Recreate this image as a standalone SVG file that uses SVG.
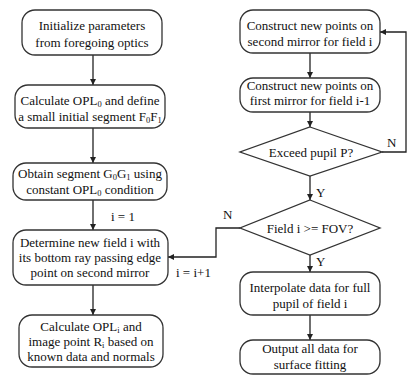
<svg xmlns="http://www.w3.org/2000/svg" width="408" height="379" viewBox="0 0 408 379">
<defs>
<marker id="ah" viewBox="0 0 10 10" refX="10" refY="5" markerWidth="6" markerHeight="6" orient="auto" markerUnits="userSpaceOnUse">
<path d="M0,0 L10,5 L0,10 z" fill="#222"/>
</marker>
<style>
.box{fill:#fff;stroke:#333;stroke-width:1.3}
.t{font-family:"Liberation Serif","Times New Roman",serif;font-size:13px;fill:#111;text-anchor:middle}
.lb{font-family:"Liberation Serif","Times New Roman",serif;font-size:13px;fill:#111}
.sub{font-size:8.5px}
.c{fill:none;stroke:#222;stroke-width:1.3;marker-end:url(#ah)}
</style>
</defs>
<rect width="408" height="379" fill="#fff"/>
<g id="connectors">
<line class="c" x1="93" y1="55" x2="93" y2="85"/>
<line class="c" x1="93" y1="128" x2="93" y2="163"/>
<line class="c" x1="93" y1="200" x2="93" y2="230"/>
<line class="c" x1="93" y1="285" x2="93" y2="315"/>
<line class="c" x1="310" y1="53" x2="310" y2="78"/>
<line class="c" x1="310" y1="112" x2="310" y2="127"/>
<line class="c" x1="310" y1="176" x2="310" y2="200"/>
<line class="c" x1="310" y1="255" x2="310" y2="272"/>
<line class="c" x1="310" y1="315" x2="310" y2="340"/>
<polyline class="c" points="382,152 406,152 406,32 380,32"/>
<polyline class="c" points="240,228 216,228 216,257 168,257"/>
<text class="lb" x="111" y="221">i = 1</text>
<text class="lb" x="387" y="147">N</text>
<text class="lb" x="223" y="219">N</text>
<text class="lb" x="176" y="277">i = i+1</text>
<text class="lb" x="316" y="197">Y</text>
<text class="lb" x="316" y="266">Y</text>
</g>
<g id="n1">
<rect class="box" x="22" y="10" width="140" height="45" rx="13"/>
<text class="t" x="92" y="30">Initialize parameters</text>
<text class="t" x="92" y="47">from foregoing optics</text>
</g>
<g id="n2">
<rect class="box" x="15" y="85" width="150" height="43" rx="13"/>
<text class="t" x="90" y="105">Calculate OPL<tspan class="sub" dy="2">0</tspan><tspan dy="-2"> and define</tspan></text>
<text class="t" x="90" y="121">a small initial segment F<tspan class="sub" dy="2">0</tspan><tspan dy="-2">F</tspan><tspan class="sub" dy="2">1</tspan></text>
</g>
<g id="n3">
<rect class="box" x="13" y="163" width="154" height="37" rx="13"/>
<text class="t" x="90" y="178">Obtain segment G<tspan class="sub" dy="2">0</tspan><tspan dy="-2">G</tspan><tspan class="sub" dy="2">1</tspan><tspan dy="-2"> using</tspan></text>
<text class="t" x="90" y="194">constant OPL<tspan class="sub" dy="2">0</tspan><tspan dy="-2"> condition</tspan></text>
</g>
<g id="n4">
<rect class="box" x="13" y="230" width="155" height="55" rx="13"/>
<text class="t" x="90" y="247">Determine new field i with</text>
<text class="t" x="90" y="262">its bottom ray passing edge</text>
<text class="t" x="90" y="277">point on second mirror</text>
</g>
<g id="n5">
<rect class="box" x="19" y="315" width="144" height="52" rx="13"/>
<text class="t" x="91" y="331">Calculate OPL<tspan class="sub" dy="2">i</tspan><tspan dy="-2"> and</tspan></text>
<text class="t" x="91" y="346">image point R<tspan class="sub" dy="2">i</tspan><tspan dy="-2"> based on</tspan></text>
<text class="t" x="91" y="361">known data and normals</text>
</g>
<g id="r1">
<rect class="box" x="240" y="10" width="140" height="43" rx="13"/>
<text class="t" x="310" y="30">Construct new points on</text>
<text class="t" x="310" y="46">second mirror for field i</text>
</g>
<g id="r2">
<rect class="box" x="240" y="78" width="140" height="34" rx="13"/>
<text class="t" x="310" y="90">Construct new points on</text>
<text class="t" x="310" y="105">first mirror for field i-1</text>
</g>
<g id="d1">
<polygon class="box" points="310,127 382,152 310,176 240,152"/>
<text class="t" x="311" y="157">Exceed pupil P?</text>
</g>
<g id="d2">
<polygon class="box" points="310,200 380,228 310,255 240,228"/>
<text class="t" x="310" y="233">Field i &gt;= FOV?</text>
</g>
<g id="r3">
<rect class="box" x="240" y="272" width="140" height="43" rx="13"/>
<text class="t" x="310" y="292">Interpolate data for full</text>
<text class="t" x="310" y="308">pupil of field i</text>
</g>
<g id="r4">
<rect class="box" x="240" y="340" width="140" height="34" rx="13"/>
<text class="t" x="310" y="353">Output all data for</text>
<text class="t" x="310" y="369">surface fitting</text>
</g>
</svg>
